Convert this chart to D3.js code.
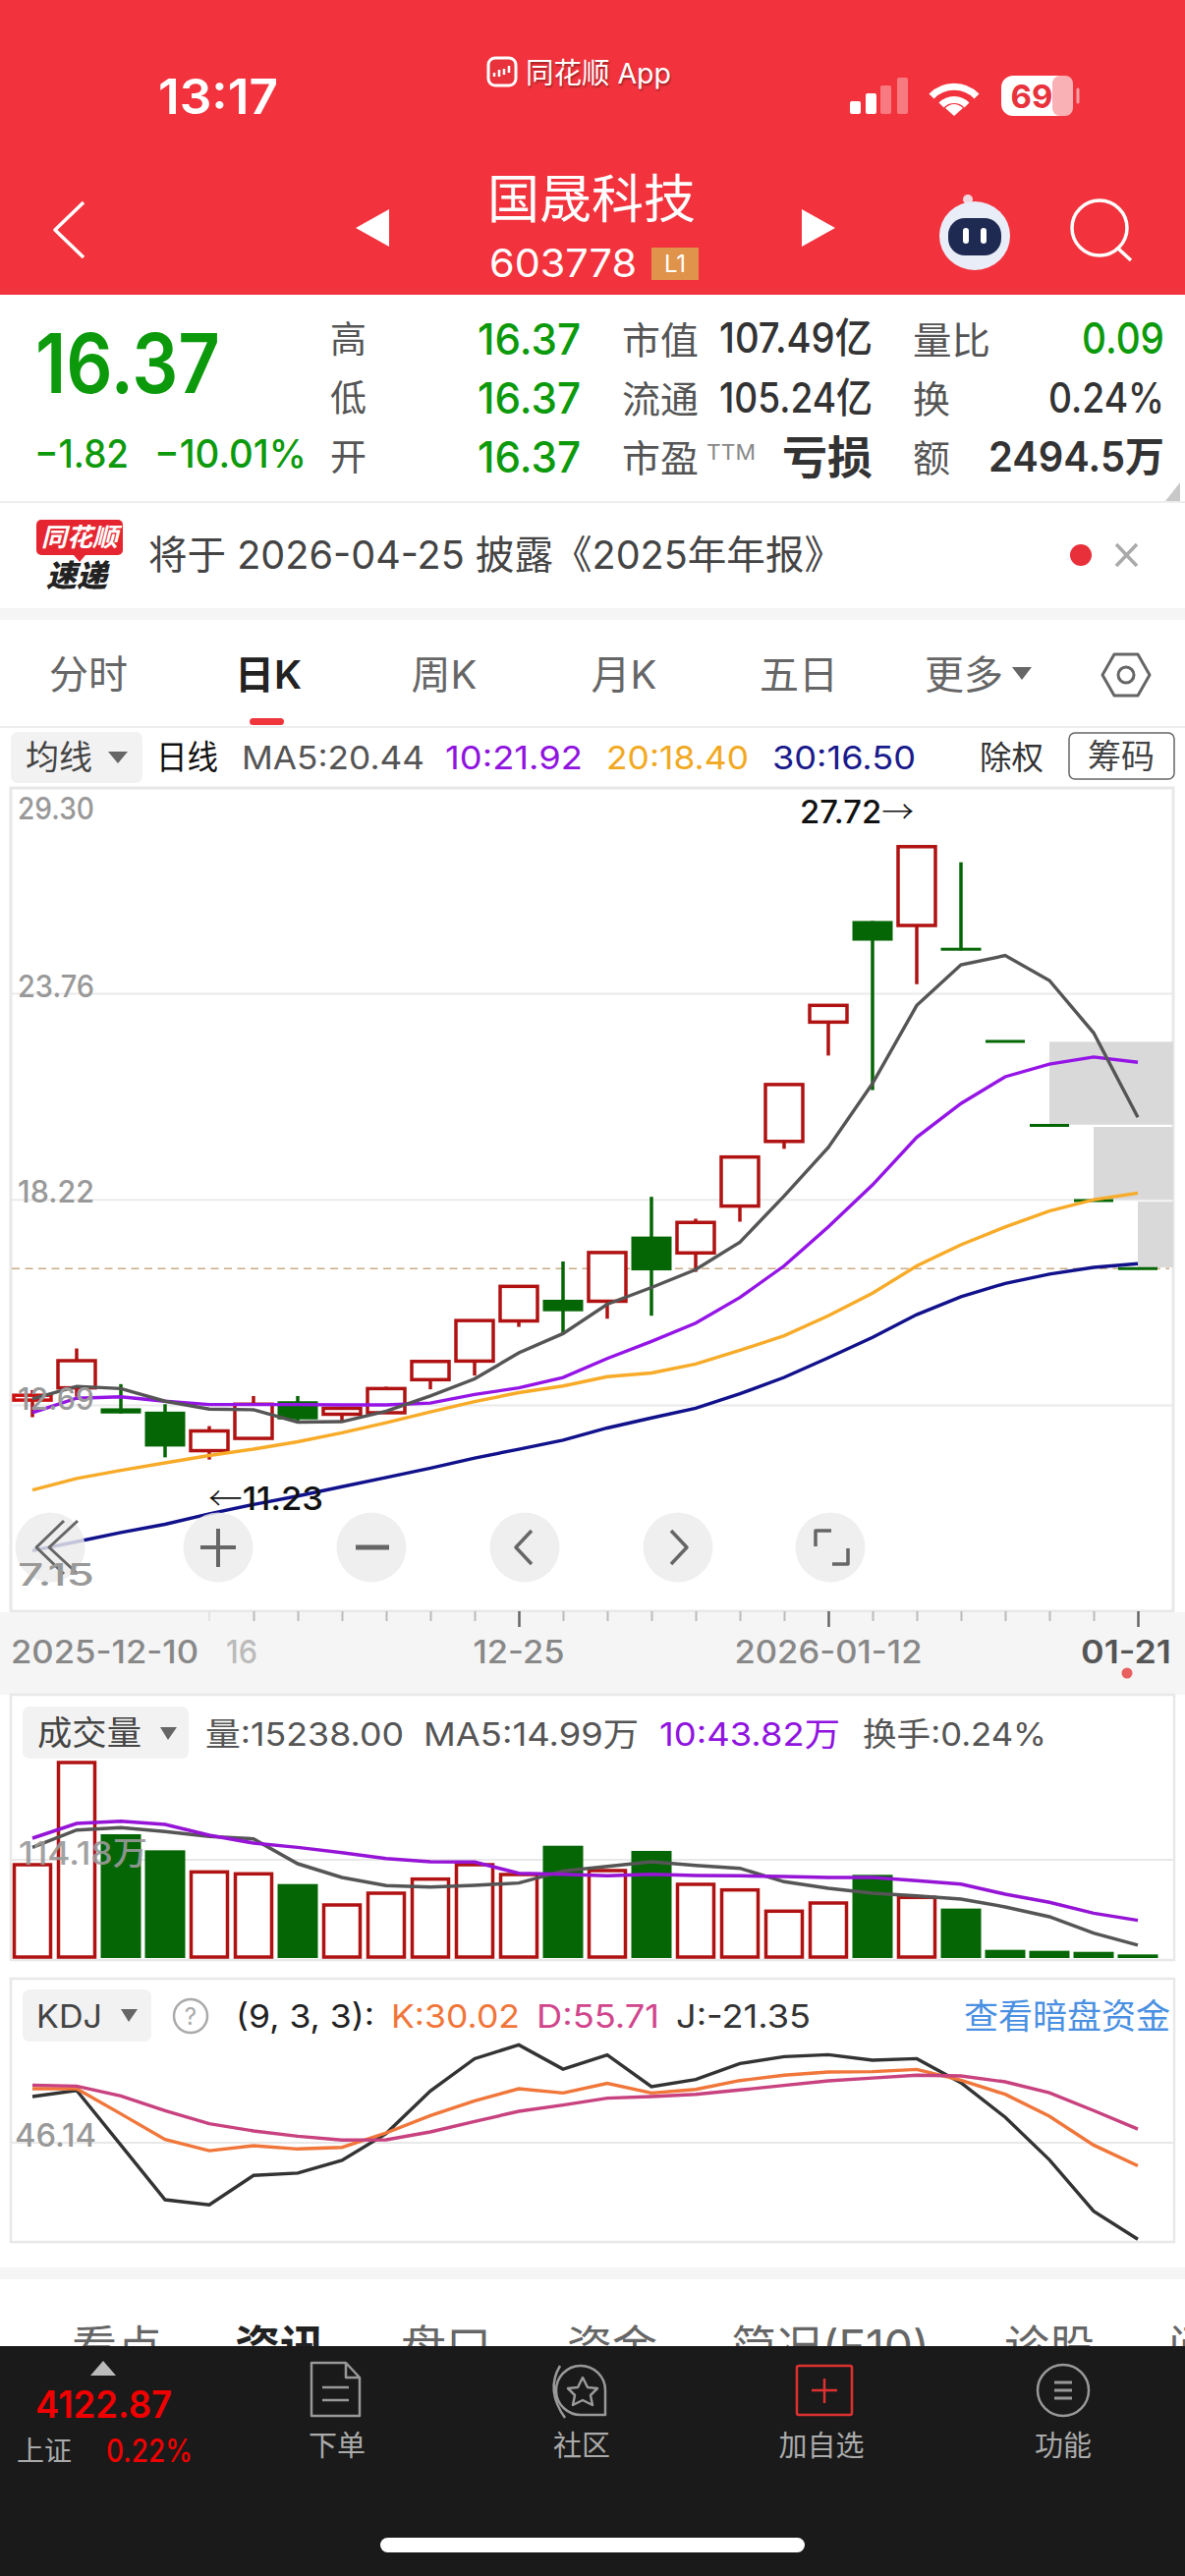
<!DOCTYPE html>
<html><head><meta charset="utf-8">
<script src="https://cdnjs.cloudflare.com/ajax/libs/d3/7.8.5/d3.min.js"></script>
<style>html,body{margin:0;padding:0;background:#fff}svg{display:block}text{font-family:"Inter","Noto Sans CJK SC",sans-serif}</style>
</head><body><svg id="c" width="1206" height="2622"></svg>
<script>
// ---------- data ----------
const dates=["2025-12-10","12-11","12-12","12-15","12-16","12-17","12-18","12-19","12-22","12-23","12-24","12-25","12-26","12-29","12-30","12-31","01-05","01-06","2026-01-12","01-13","01-14","01-15","01-16","01-19","01-20","01-21"];
const opens =[12.83,13.16,12.61,12.52,11.47,11.80,12.80,12.45,12.49,13.38,13.88,14.96,15.53,15.49,17.23,16.79,18.05,19.79,23.00,25.72,25.60,25.00,22.48,20.22,18.20,16.37];
const closes=[12.96,13.89,12.47,11.58,12.00,12.72,12.31,12.61,13.14,13.87,14.97,15.89,15.22,16.80,16.32,17.61,19.37,21.32,23.45,25.19,27.72,24.93,22.48,20.22,18.20,16.37];
const highs =[13.10,14.22,13.26,12.72,12.13,12.94,12.94,12.61,13.19,13.91,14.97,15.89,16.56,16.80,18.30,17.71,19.37,21.32,23.45,25.72,27.72,27.30,22.48,20.22,18.20,16.37];
const lows  =[12.37,12.92,12.47,11.29,11.23,11.80,12.25,12.25,12.49,13.12,13.49,14.80,14.62,15.02,15.10,16.28,17.63,19.59,22.10,21.17,24.02,24.93,22.48,20.22,18.20,16.37];
const candleUp=[1,1,0,0,1,1,0,1,1,1,1,1,0,1,0,1,1,1,1,0,1,0,0,0,0,0];
const ma5  =[12.86,13.20,13.14,12.80,12.59,12.57,12.24,12.25,12.53,12.94,13.40,14.10,14.62,15.41,15.86,16.34,17.08,18.32,19.63,21.35,23.45,24.54,24.79,24.12,22.71,20.44];
const ma10 =[12.49,12.88,12.92,12.80,12.71,12.71,12.71,12.70,12.70,12.75,12.98,13.16,13.44,13.95,14.41,14.90,15.59,16.44,17.49,18.62,19.90,20.81,21.53,21.87,22.06,21.92];
const ma20 =[10.41,10.72,10.94,11.14,11.34,11.51,11.71,11.95,12.22,12.51,12.79,13.03,13.21,13.46,13.56,13.80,14.17,14.56,15.10,15.71,16.44,17.01,17.49,17.92,18.22,18.40];
const ma30 =[8.78,9.02,9.27,9.49,9.77,10.02,10.25,10.50,10.75,11.00,11.27,11.51,11.75,12.08,12.35,12.61,13.00,13.44,13.97,14.52,15.13,15.61,15.97,16.22,16.40,16.50];
const priceTicks=[29.30,23.76,18.22,12.69,7.15];
const gaps=[{from:23,hi:22.47,lo:20.24},{from:24,hi:20.18,lo:18.23},{from:25,hi:18.17,lo:16.40}];
const lastPrice=16.37;
const volumes=[109.6,228.36,143.9,125.2,101.2,99.0,86.0,62.8,76.5,92.9,109.6,98.2,130.5,102.8,124.5,86.8,80.3,55.6,65.1,96.7,71.6,57.5,9.5,8.4,7.2,4.2];
const volMa5=[128.6,148.8,151.5,146.9,141.2,138.5,109.6,93.6,84.1,82.6,84.5,87.2,101.2,106.6,111.9,107.7,104.3,88.7,81.1,75.4,72.3,68.5,59.4,48.0,28.9,14.99];
const volMa10=[139.3,156.4,159.1,155.3,142.7,133.6,128.6,122.5,115.7,111.9,111.5,98.6,97.4,95.5,97.4,95.9,95.5,94.8,93.6,93.6,89.8,86.0,74.2,64.7,52.1,43.82];
const kVals=[83.9,83.9,66.3,48.4,40.6,44.1,41.8,42.9,53.0,65.1,75.4,83.9,80.9,87.6,80.9,83.4,89.6,93.3,95.6,95.8,97.4,89.8,80.0,64.7,44.5,30.02];
const dVals=[86.4,85.7,78.9,68.6,59.4,54.4,50.7,48.0,48.2,53.7,61.0,68.1,72.5,77.3,78.4,80.0,83.0,86.2,89.4,91.4,93.3,92.8,88.7,81.1,68.6,55.71];
const jVals=[78.4,82.7,44.5,6.3,2.7,23.3,24.9,33.8,52.6,82.3,104.9,114.5,97.6,107.5,85.3,90.3,101.5,106.3,107.7,103.8,104.9,88.0,64.0,34.2,-1.7,-21.35];
const idx=d3.range(dates.length);

// ---------- scales ----------
const x=d3.scalePoint().domain(idx).range([33,1158]);
const y=d3.scaleLinear().domain([7.15,29.30]).range([1640,802]);
const yV=d3.scaleLinear().domain([0,228.36]).range([1993,1793]);
const yK=d3.scaleLinear().domain([-21.35,113.63]).range([2279.3,2082.7]);

const RED="#b01212",GREEN="#056605",GAPC="#d9d9d9";
const svg=d3.select("#c");
function T(px,cy,s,o={}){const size=o.size||34;
 const e=(o.g||svg).append("text").attr("x",px).attr("y",cy+size*0.36).attr("font-size",size).attr("fill",o.fill||"#333")
 .attr("font-weight",o.weight||400).attr("text-anchor",o.anchor||"start").text(s);
 if(o.w)e.attr("textLength",o.w).attr("lengthAdjust","spacingAndGlyphs");
 if(o.op)e.attr("opacity",o.op);if(o.style)e.attr("style",o.style);return e;}
function R(a,b,w,h,f,o={}){return svg.append("rect").attr("x",a).attr("y",b).attr("width",w).attr("height",h).attr("fill",f).attr("rx",o.rx||0).attr("stroke",o.stroke||"none").attr("stroke-width",o.sw||0).attr("opacity",o.op||1);}
function P(d,o={}){return svg.append("path").attr("d",d).attr("fill",o.fill||"none").attr("stroke",o.stroke||"none").attr("stroke-width",o.sw||0).attr("stroke-linecap",o.cap||"butt").attr("stroke-linejoin","round").attr("opacity",o.op||1);}

// ---------- header ----------
R(0,0,1206,300,"#f2333d");
T(161,98,"13:17",{size:50,fill:"#fff",weight:600,w:122});
R(497,59,28,28,"#e8323c",{rx:7,stroke:"#fff",sw:3});
P("M503 78v-4M508 78v-7M513 76v-6M518 74v-7",{stroke:"#fff",sw:2.5});
T(535,75,"同花顺 App",{size:29,fill:"#fff",w:148,style:"text-shadow:1px 2px 2px rgba(0,0,0,.35)"});
[[865,13,1],[881,21,1],[896,29,.35],[913,37,.35]].forEach(b=>R(b[0],116-b[1],11,b[1],"#fff",{rx:2,op:b[2]}));
P("M948 98A32 32 0 0 1 994 98",{stroke:"#fff",sw:7});P("M958 107A18 18 0 0 1 984 107",{stroke:"#fff",sw:7});P("M971 118L962 110Q971 102 980 110Z",{fill:"#fff"});
R(1019,77,73,41,"#fff",{rx:12});R(1071,77,21,41,"#f9b1b5",{rx:8});P("M1097 91v13",{stroke:"#f9a0a5",sw:3,cap:"round"});
T(1050,98,"69",{size:33,fill:"#e8323c",weight:700,anchor:"middle"});
P("M85 206L56 234L85 262",{stroke:"#fff",sw:3.5});
P("M396 213V251L362 232Z",{fill:"#fff"});P("M816 213V251L850 232Z",{fill:"#fff"});
T(496,203,"国晟科技",{size:53,fill:"#fff",w:212});
T(498,268,"603778",{size:39,fill:"#fff",w:150});
R(663,252,48,33,"#e0934a");T(687,268,"L1",{size:24,fill:"#fff",anchor:"middle"});
P("M984 204L986 214",{stroke:"#dfe6f5",sw:3});svg.append("circle").attr("cx",985).attr("cy",203).attr("r",5).attr("fill","#f0d8e0");
svg.append("ellipse").attr("cx",992).attr("cy",240).attr("rx",36).attr("ry",35).attr("fill","#e8edf8");
R(965,222,54,38,"#1e2a52",{rx:17});R(980,232,6,16,"#fff",{rx:3});R(998,232,6,16,"#fff",{rx:3});
svg.append("circle").attr("cx",1119).attr("cy",232).attr("r",28).attr("fill","none").attr("stroke","#fff").attr("stroke-width",3.5);
P("M1138 253L1151 265",{stroke:"#fff",sw:3.5});

// ---------- quote panel ----------
const Q="#0c9a0c";
T(36,370,"16.37",{size:84,fill:Q,weight:600,w:188});
T(35,462,"−1.82",{size:39,fill:Q,weight:500,w:96});T(157,462,"−10.01%",{size:39,fill:Q,weight:500,w:155});
[["高",346],["低",406],["开",466]].forEach(r=>{T(336,r[1],r[0],{size:37,fill:"#555",w:37});T(486,r[1]-1,"16.37",{size:44,fill:Q,weight:500,w:105});});
T(633,346,"市值",{size:38,fill:"#555",w:78});T(732,344,"107.49亿",{size:42,fill:"#333",weight:500,w:156});
T(633,406,"流通",{size:38,fill:"#555",w:78});T(732,405,"105.24亿",{size:42,fill:"#333",weight:500,w:156});
T(633,466,"市盈",{size:38,fill:"#555",w:78});T(719,460,"TTM",{size:22,fill:"#888",w:50});T(796,465,"亏损",{size:46,fill:"#333",weight:700,w:92});
T(929,346,"量比",{size:38,fill:"#555",w:79});T(1185,344,"0.09",{size:44,fill:Q,weight:500,anchor:"end",w:84});
T(929,406,"换",{size:38,fill:"#555"});T(1185,405,"0.24%",{size:42,fill:"#333",weight:500,anchor:"end",w:118});
T(929,466,"额",{size:38,fill:"#555"});T(1185,465,"2494.5万",{size:42,fill:"#333",weight:600,anchor:"end",w:179});
P("M1201 491V510H1186Z",{fill:"#c8c8c8"});
R(0,510,1206,2,"#eee");

// ---------- news bar ----------
R(37,529,88,36,"#e5252f",{rx:5});P("M75 565L81 572L87 565Z",{fill:"#e5252f"});
T(81,547,"同花顺",{size:26,fill:"#fff",weight:700,anchor:"middle",style:"font-style:italic"});
T(78,586,"速递",{size:31,fill:"#222",weight:900,anchor:"middle",style:"font-style:italic"});
T(151,565,"将于 2026-04-25 披露《2025年年报》",{size:40,fill:"#444",w:707});
svg.append("circle").attr("cx",1100).attr("cy",565).attr("r",11).attr("fill","#e8303a");
P("M1136 554L1157 576M1157 554L1136 576",{stroke:"#aaa",sw:3.5});
R(0,619,1206,12,"#f5f5f5");

// ---------- period tabs ----------
[["分时",90,"#666",400],["日K",273,"#222",600],["周K",452,"#666",400],["月K",635,"#666",400],["五日",813,"#666",400],["更多",981,"#666",400]].forEach(t=>T(t[1],687,t[0],{size:40,fill:t[2],weight:t[3],anchor:"middle"}));
P("M1030 679H1050L1040 692Z",{fill:"#666"});
P("M1122 687L1134 666H1158L1170 687L1158 708H1134Z",{stroke:"#666",sw:3});
svg.append("circle").attr("cx",1146).attr("cy",687).attr("r",8).attr("fill","none").attr("stroke","#666").attr("stroke-width",3);
R(254,731,35,7,"#f0353d",{rx:3.5});
R(0,739,1206,2,"#eee");

// ---------- legend ----------
R(11,745,134,52,"#f2f2f2",{rx:7});T(26,771,"均线",{size:34,fill:"#444",w:68});P("M110 765H130L120 777Z",{fill:"#666"});
T(159,771,"日线",{size:34,fill:"#111",w:63});
T(246,771,"MA5:20.44",{size:33,fill:"#555",w:186});
T(453,771,"10:21.92",{size:33,fill:"#9013e0",w:140});
T(617,771,"20:18.40",{size:33,fill:"#f2a922",w:145});
T(786,771,"30:16.50",{size:33,fill:"#1a1a8c",w:146});
T(997,771,"除权",{size:33,fill:"#333",w:65});
R(1088,746,107,47,"#fff",{rx:6,stroke:"#666",sw:1.5});T(1141,770,"筹码",{size:34,fill:"#444",anchor:"middle",w:68});

// ---------- price panel ----------
R(11,802,1183,838,"#fff",{stroke:"#e8e8e8",sw:3});
priceTicks.slice(1,4).forEach(v=>svg.append("line").attr("x1",12).attr("x2",1193).attr("y1",y(v)).attr("y2",y(v)).attr("stroke","#eaeaea").attr("stroke-width",2));
gaps.forEach(g=>R(x(g.from),y(g.hi),1194-x(g.from),y(g.lo)-y(g.hi),GAPC));
svg.append("line").attr("x1",12).attr("x2",1190).attr("y1",y(lastPrice)).attr("y2",y(lastPrice)).attr("stroke","#c9ab86").attr("stroke-width",1.5).attr("stroke-dasharray","8 5.5");

idx.forEach(i=>{
 const cx=x(i),o=opens[i],c=closes[i],up=candleUp[i]===1;
 const col=up?RED:GREEN,top=y(Math.max(o,c)),bot=y(Math.min(o,c));
 svg.append("line").attr("x1",cx).attr("x2",cx).attr("y1",y(highs[i])).attr("y2",y(lows[i])).attr("stroke",col).attr("stroke-width",3.5);
 if(i>=22){svg.append("line").attr("x1",cx-20).attr("x2",cx+20).attr("y1",top).attr("y2",top).attr("stroke",GREEN).attr("stroke-width",3);}
 else if(up){svg.append("rect").attr("x",cx-19).attr("y",top).attr("width",38).attr("height",bot-top).attr("fill","#fff").attr("stroke",i===0?"#cc1010":RED).attr("stroke-width",3.5);}
 else{svg.append("rect").attr("x",cx-20.5).attr("y",top).attr("width",41).attr("height",Math.max(3,bot-top)).attr("fill",GREEN);}
});
const lineP=d3.line().x((d,i)=>x(i)).y(d=>y(d));
[[ma30,"#11118c"],[ma20,"#f7ab28"],[ma10,"#9514e6"],[ma5,"#555"]].forEach(s=>svg.append("path").attr("d",lineP(s[0])).attr("fill","none").attr("stroke",s[1]).attr("stroke-width",3.4));

const hi=T(814,826,"27.72",{size:32,fill:"#111",weight:500,w:116});
hi.text(null);hi.append("tspan").text("27.72");hi.append("tspan").attr("font-family","Noto Sans CJK SC").attr("font-weight",300).text("→");
const lo=T(212,1525,"",{size:33,fill:"#111",weight:500,w:117});
lo.append("tspan").attr("font-family","Noto Sans CJK SC").attr("font-weight",300).text("←");lo.append("tspan").text("11.23");

[51,222,378,534,690,845].forEach(c=>svg.append("circle").attr("cx",c).attr("cy",1575).attr("r",35.5).attr("fill","#ebebeb").attr("opacity",.82));
P("M65 1548L37 1575L65 1602",{stroke:"#666",sw:3});P("M79 1548L50 1575L79 1602",{stroke:"#666",sw:3});
P("M222 1556V1595M204 1575H240",{stroke:"#666",sw:4});P("M362 1575H396",{stroke:"#666",sw:5});
P("M541 1558L525 1575L541 1592",{stroke:"#666",sw:3.5});P("M683 1558L699 1575L683 1592",{stroke:"#666",sw:3.5});
P("M846 1558H830V1574M863 1576V1592H847",{stroke:"#666",sw:3.5});
const labelDy=[21,-7.6,-8,-7,-37];
priceTicks.forEach((v,i)=>T(18,y(v)+labelDy[i],v.toFixed(2),{size:31,fill:"#999",weight:500,w:78}));

// ---------- date axis ----------
R(0,1641,1206,84,"#f5f5f5");
const axMinor=d3.axisBottom(x).tickValues(idx.filter(i=>i>=5&&![11,18,25].includes(i))).tickSize(10).tickFormat("");
const axMajor=d3.axisBottom(x).tickValues([11,18,25]).tickSize(16).tickFormat("");
const gm=svg.append("g").attr("transform","translate(0,1640)").call(axMinor);gm.select(".domain").remove();gm.selectAll("line").attr("stroke","#bbb").attr("stroke-width",2);
const gM=svg.append("g").attr("transform","translate(0,1640)").call(axMajor);gM.select(".domain").remove();gM.selectAll("line").attr("stroke","#666").attr("stroke-width",2.5);
svg.append("line").attr("x1",x(4)).attr("x2",x(4)).attr("y1",1640).attr("y2",1650).attr("stroke","#e4e4e4").attr("stroke-width",2);
T(11,1681,dates[0],{size:32,fill:"#888",weight:500,w:191});
T(x(4)+33,1681,dates[4].slice(3),{size:32,fill:"#bbb",weight:500,w:32,anchor:"middle"});
T(x(11),1681,dates[11],{size:32,fill:"#888",weight:500,w:93,anchor:"middle"});
T(x(18),1681,dates[18],{size:32,fill:"#888",weight:500,w:191,anchor:"middle"});
T(1100,1681,dates[25],{size:32,fill:"#555",weight:600,w:92});
svg.append("circle").attr("cx",1147).attr("cy",1703).attr("r",5.5).attr("fill","#e8605f");

// ---------- volume panel ----------
R(11,1725,1184,270,"#fff",{stroke:"#e8e8e8",sw:2.5});
svg.append("line").attr("x1",12).attr("x2",1194).attr("y1",yV(114.18)).attr("y2",yV(114.18)).attr("stroke","#e8e8e8").attr("stroke-width",2);
idx.forEach(i=>{const cx=x(i),t=yV(volumes[i]),b=yV(0);
 if(candleUp[i])svg.append("rect").attr("x",cx-18.5).attr("y",t+1).attr("width",37).attr("height",b-t-2).attr("fill","#fff").attr("stroke",RED).attr("stroke-width",3.5);
 else svg.append("rect").attr("x",cx-20.5).attr("y",t).attr("width",41).attr("height",b-t).attr("fill",GREEN);});
const lineV=d3.line().x((d,i)=>x(i)).y(d=>yV(d));
[[volMa5,"#555"],[volMa10,"#9514d6"]].forEach(s=>svg.append("path").attr("d",lineV(s[0])).attr("fill","none").attr("stroke",s[1]).attr("stroke-width",3.5));
R(23,1737,169,53,"#f2f2f2",{rx:7});T(38,1764,"成交量",{size:34,fill:"#444",w:106});P("M163 1758H180L171 1771Z",{fill:"#666"});
T(209,1765,"量:15238.00",{size:33,fill:"#555",w:202});
T(431,1765,"MA5:14.99万",{size:33,fill:"#555",w:219});
T(671,1765,"10:43.82万",{size:33,fill:"#9013e0",w:184});
T(878,1765,"换手:0.24%",{size:33,fill:"#555",w:187});
T(19,1886,"114.18万",{size:33,fill:"#999",weight:500,w:131,op:.9});

// ---------- KDJ panel ----------
R(11,2014,1184,268,"#fff",{stroke:"#e8e8e8",sw:2.5});
svg.append("line").attr("x1",12).attr("x2",1194).attr("y1",yK(46.14)).attr("y2",yK(46.14)).attr("stroke","#e8e8e8").attr("stroke-width",2);
const lineK=d3.line().x((d,i)=>x(i)).y(d=>yK(d));
[[jVals,"#333"],[kVals,"#f0763a"],[dVals,"#c8427f"]].forEach(s=>svg.append("path").attr("d",lineK(s[0])).attr("fill","none").attr("stroke",s[1]).attr("stroke-width",3.4));
R(23,2025,131,53,"#f2f2f2",{rx:7});T(37,2052,"KDJ",{size:33,fill:"#444",w:67});P("M123 2045H140L131 2058Z",{fill:"#666"});
svg.append("circle").attr("cx",194).attr("cy",2052).attr("r",17).attr("fill","none").attr("stroke","#aaa").attr("stroke-width",2.5);
T(194,2052,"?",{size:24,fill:"#aaa",anchor:"middle"});
T(240,2052,"(9, 3, 3):",{size:33,fill:"#222",w:141});
T(398,2052,"K:30.02",{size:33,fill:"#f0763a",w:131});
T(546,2052,"D:55.71",{size:33,fill:"#d0458c",w:125});
T(688,2052,"J:-21.35",{size:33,fill:"#333",w:137});
T(981,2052,"查看暗盘资金",{size:35,fill:"#4a90e2",w:210});
T(15,2173,"46.14",{size:32,fill:"#999",weight:500,w:83});

// ---------- bottom tabs ----------
R(0,2308,1206,12,"#f5f5f5");
[["看点",119,"#666",400,92],["资讯",285,"#222",700,92],["盘口",454,"#666",400,92],["资金",623,"#666",400,92],["简况(F10)",845,"#666",400,202],["诊股",1068,"#666",400,92]].forEach(t=>T(t[1],2388,t[0],{size:46,fill:t[2],weight:t[3],anchor:"middle",w:t[4]}));
T(1189,2388,"问",{size:46,fill:"#666"});

// ---------- dark toolbar ----------
R(0,2388,1206,234,"#1a1a1a");
P("M105 2403L118 2418H92Z",{fill:"#bbb"});
T(36,2447,"4122.87",{size:38,fill:"#f00000",weight:600,w:139});
T(17,2495,"上证",{size:28,fill:"#aaa",w:56});T(108,2494,"0.22%",{size:32,fill:"#f00000",weight:500,w:88});
P("M317 2405H352L366 2420V2459H317ZM352 2405V2420H366M328 2430H355M328 2443H355",{stroke:"#999",sw:2.5});
P("M570 2408Q555 2433 575 2461",{stroke:"#999",sw:2.5});
P("M616 2458H592A25 25 0 1 1 616 2433Z",{stroke:"#999",sw:2.5});
P("M593 2420L598 2430L608 2431L601 2438L603 2448L593 2443L583 2448L585 2438L578 2431L588 2430Z",{stroke:"#999",sw:2.5});
R(811,2408,56,50,"none",{rx:2,stroke:"#e03030",sw:2.5});P("M839 2421V2446M826 2433H852",{stroke:"#e03030",sw:2.5});
svg.append("circle").attr("cx",1082).attr("cy",2433).attr("r",26).attr("fill","none").attr("stroke","#999").attr("stroke-width",2.5);
P("M1073 2425H1091M1073 2433H1091M1073 2441H1091",{stroke:"#999",sw:3});
[["下单",343],["社区",592],["加自选",836],["功能",1082]].forEach(t=>T(t[1],2490,t[0],{size:29,fill:"#aaa",anchor:"middle"}));
R(387,2583,432,15,"#fff",{rx:7.5});
</script></body></html>
